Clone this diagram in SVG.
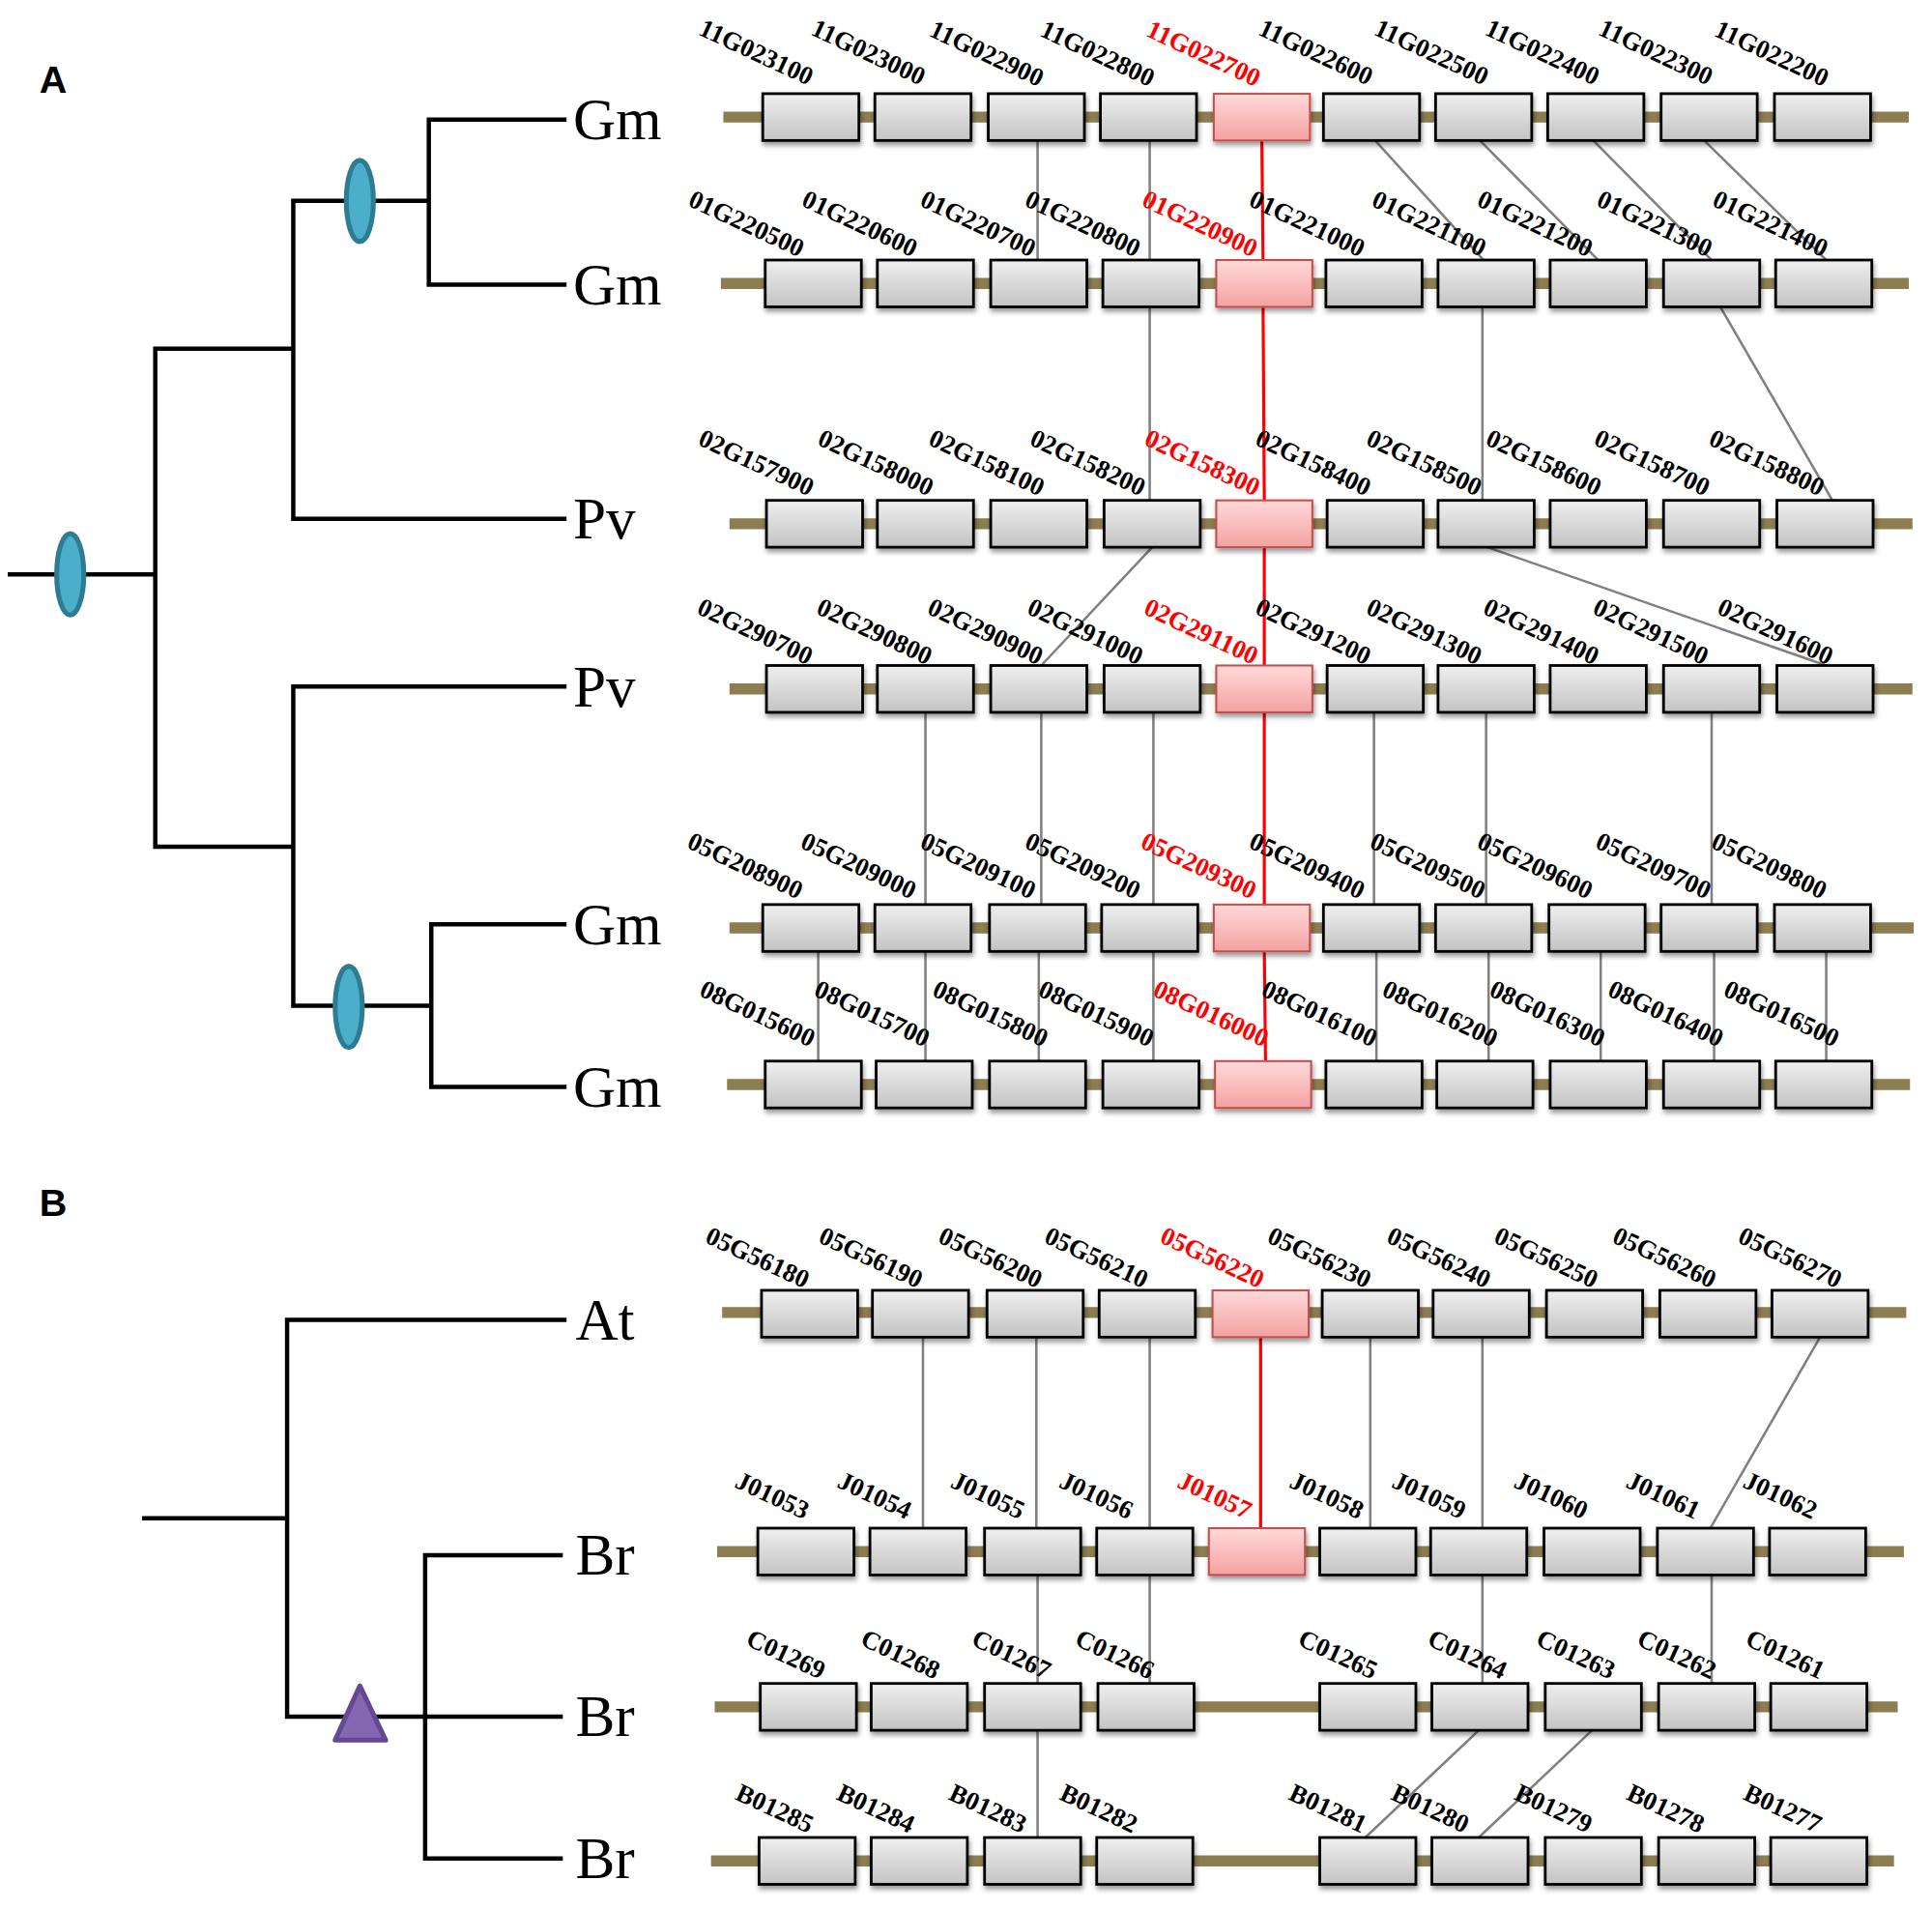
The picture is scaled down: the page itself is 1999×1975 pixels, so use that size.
<svg xmlns="http://www.w3.org/2000/svg" width="1999" height="1975" viewBox="0 0 1999 1975">
<defs>
<linearGradient id="gg" x1="0" y1="0" x2="0" y2="1"><stop offset="0" stop-color="#EFEFEF"/><stop offset="1" stop-color="#C3C3C3"/></linearGradient>
<linearGradient id="rg" x1="0" y1="0" x2="0" y2="1"><stop offset="0" stop-color="#FFD9D9"/><stop offset="1" stop-color="#F4A2A2"/></linearGradient>
<filter id="sh" x="-20%" y="-20%" width="150%" height="170%"><feDropShadow dx="1" dy="3" stdDeviation="2" flood-color="#000" flood-opacity="0.4"/></filter>
<style>
.gb{fill:url(#gg);stroke:#000;stroke-width:2.2;filter:url(#sh)}
.rb{fill:url(#rg);stroke:#C0504D;stroke-width:1.6;filter:url(#sh)}
.trk{stroke:#8C7E50;stroke-width:9;fill:none}
.tree{stroke:#000;stroke-width:3.5;fill:none;stroke-linecap:square}
.cn{stroke:#808080;stroke-width:2;fill:none}
.cr{stroke:#FF0000;stroke-width:2.5;fill:none}
.lb{font-family:"Liberation Serif","Times New Roman",serif;font-weight:bold;font-size:21px;text-anchor:middle;fill:#000}
.lr{fill:#FF0000}
.sp{font-family:"Liberation Serif","Times New Roman",serif;font-size:48px;fill:#000}
.pl{font-family:"Liberation Sans",Arial,sans-serif;font-weight:bold;font-size:31px;fill:#000}
.wgd{fill:#4BAFCB;stroke:#2D7C91;stroke-width:4}
.tri{fill:#8567B1;stroke:#654892;stroke-width:4;stroke-linejoin:round}
</style>
</defs>
<rect width="1999" height="1975" fill="#fff"/>
<g transform="scale(1.275)">
<text class="pl" x="32" y="75">A</text>
<text class="pl" x="32" y="987">B</text>

<g id="treeA">
<path class="tree" d="M8,466 H126 M238,283 H126 V687 H238 M458,421 H238 V163 H348 M458,97 H348 V231 H458 M458,557 H238 V816 H350 M458,750 H350 V882 H458"/>
<ellipse class="wgd" cx="57" cy="466" rx="11" ry="33"/>
<ellipse class="wgd" cx="292" cy="163" rx="11" ry="33"/>
<ellipse class="wgd" cx="283" cy="817" rx="11" ry="33"/>
</g>
<g id="treeB">
<path class="tree" d="M117,1232 H233 M458,1071 H233 V1393 H455 M455,1262 H345 V1508 H455"/>
<polygon class="tri" points="292,1368 272,1412 313,1412"/>
</g>
<g id="species">
<text class="sp" x="465" y="113">Gm</text>
<text class="sp" x="465" y="247">Gm</text>
<text class="sp" x="465" y="437">Pv</text>
<text class="sp" x="465" y="573">Pv</text>
<text class="sp" x="465" y="766">Gm</text>
<text class="sp" x="465" y="898">Gm</text>
<text class="sp" x="467" y="1087">At</text>
<text class="sp" x="467" y="1278">Br</text>
<text class="sp" x="467" y="1409">Br</text>
<text class="sp" x="467" y="1524">Br</text>
</g>

<g id="connectors">
<path class="cn" d="M842,114 V211 M933,114 V211 M1116,114 L1204,211 M1201,114 L1297,211 M1293,114 L1389,211 M1383,114 L1482,211"/>
<path class="cn" d="M933,249 V406 M1203,249 V406 M1396,249 L1487,406"/>
<path class="cn" d="M935,444 L845,540 M1207,444 L1482,540"/>
<path class="cn" d="M751,578 V734 M845,578 V734 M936,578 V734 M1115,578 V734 M1206,578 V734 M1389,578 V734"/>
<path class="cn" d="M664,772 V861 M751,772 V861 M843,772 V861 M936,772 V861 M1117,772 V861 M1208,772 V861 M1299,772 V861 M1391,772 V861 M1482,772 V861"/>
<path class="cn" d="M749,1085 V1240 M841,1085 V1240 M933,1085 V1240 M1112,1085 V1240 M1203,1085 V1240 M1477,1085 L1388,1240"/>
<path class="cn" d="M842,1278 V1366 M933,1278 V1366 M1203,1278 V1366 M1389,1278 V1366"/>
<path class="cn" d="M842,1404 V1491 M1200,1404 L1108,1491 M1292,1404 L1200,1491"/>
<path class="cr" d="M1024,114 L1025,211 M1025,249 L1026,406 M1026,444 V540 M1026,578 V734 M1026,772 L1027,861 M1023,1085 V1240"/>
</g>

<g id="tracks">
<path class="trk" d="M587,95 H1549 M585,230 H1549 M592,425 H1552 M592,559 H1552 M592,753 H1553 M590,880 H1550 M586,1065 H1547 M582,1259 H1545 M580,1385 H1540 M577,1510 H1537"/>
</g>

<g id="row1">
<g id="g11G023100"><rect class="gb" x="619" y="76" width="78" height="38"/><text class="lb" dy="0.35em" transform="translate(614,42) rotate(25)">11G023100</text></g>
<g id="g11G023000"><rect class="gb" x="710" y="76" width="78" height="38"/><text class="lb" dy="0.35em" transform="translate(705,42) rotate(25)">11G023000</text></g>
<g id="g11G022900"><rect class="gb" x="802" y="76" width="78" height="38"/><text class="lb" dy="0.35em" transform="translate(801,43) rotate(25)">11G022900</text></g>
<g id="g11G022800"><rect class="gb" x="893" y="76" width="78" height="38"/><text class="lb" dy="0.35em" transform="translate(891,43) rotate(25)">11G022800</text></g>
<g id="g11G022700"><rect class="rb" x="985" y="76" width="78" height="38"/><text class="lb lr" dy="0.35em" transform="translate(977,43) rotate(25)">11G022700</text></g>
<g id="g11G022600"><rect class="gb" x="1074" y="76" width="78" height="38"/><text class="lb" dy="0.35em" transform="translate(1068,42) rotate(25)">11G022600</text></g>
<g id="g11G022500"><rect class="gb" x="1165" y="76" width="78" height="38"/><text class="lb" dy="0.35em" transform="translate(1162,42) rotate(25)">11G022500</text></g>
<g id="g11G022400"><rect class="gb" x="1256" y="76" width="78" height="38"/><text class="lb" dy="0.35em" transform="translate(1252,42) rotate(25)">11G022400</text></g>
<g id="g11G022300"><rect class="gb" x="1348" y="76" width="78" height="38"/><text class="lb" dy="0.35em" transform="translate(1344,42) rotate(25)">11G022300</text></g>
<g id="g11G022200"><rect class="gb" x="1440" y="76" width="78" height="38"/><text class="lb" dy="0.35em" transform="translate(1438,43) rotate(25)">11G022200</text></g>
</g>

<g id="row2">
<g id="g01G220500"><rect class="gb" x="621" y="211" width="78" height="38"/><text class="lb" dy="0.35em" transform="translate(606,181) rotate(25)">01G220500</text></g>
<g id="g01G220600"><rect class="gb" x="712" y="211" width="78" height="38"/><text class="lb" dy="0.35em" transform="translate(698,181) rotate(25)">01G220600</text></g>
<g id="g01G220700"><rect class="gb" x="804" y="211" width="78" height="38"/><text class="lb" dy="0.35em" transform="translate(794,181) rotate(25)">01G220700</text></g>
<g id="g01G220800"><rect class="gb" x="895" y="211" width="78" height="38"/><text class="lb" dy="0.35em" transform="translate(879,181) rotate(25)">01G220800</text></g>
<g id="g01G220900"><rect class="rb" x="987" y="211" width="78" height="38"/><text class="lb lr" dy="0.35em" transform="translate(974,181) rotate(25)">01G220900</text></g>
<g id="g01G221000"><rect class="gb" x="1076" y="211" width="78" height="38"/><text class="lb" dy="0.35em" transform="translate(1061,181) rotate(25)">01G221000</text></g>
<g id="g01G221100"><rect class="gb" x="1167" y="211" width="78" height="38"/><text class="lb" dy="0.35em" transform="translate(1160,181) rotate(25)">01G221100</text></g>
<g id="g01G221200"><rect class="gb" x="1258" y="211" width="78" height="38"/><text class="lb" dy="0.35em" transform="translate(1246,181) rotate(25)">01G221200</text></g>
<g id="g01G221300"><rect class="gb" x="1350" y="211" width="78" height="38"/><text class="lb" dy="0.35em" transform="translate(1343,181) rotate(25)">01G221300</text></g>
<g id="g01G221400"><rect class="gb" x="1441" y="211" width="78" height="38"/><text class="lb" dy="0.35em" transform="translate(1437,181) rotate(25)">01G221400</text></g>
</g>

<g id="row3">
<g id="g02G157900"><rect class="gb" x="622" y="406" width="78" height="38"/><text class="lb" dy="0.35em" transform="translate(614,375) rotate(25)">02G157900</text></g>
<g id="g02G158000"><rect class="gb" x="712" y="406" width="78" height="38"/><text class="lb" dy="0.35em" transform="translate(711,375) rotate(25)">02G158000</text></g>
<g id="g02G158100"><rect class="gb" x="804" y="406" width="78" height="38"/><text class="lb" dy="0.35em" transform="translate(801,375) rotate(25)">02G158100</text></g>
<g id="g02G158200"><rect class="gb" x="896" y="406" width="78" height="38"/><text class="lb" dy="0.35em" transform="translate(883,375) rotate(25)">02G158200</text></g>
<g id="g02G158300"><rect class="rb" x="987" y="406" width="78" height="38"/><text class="lb lr" dy="0.35em" transform="translate(976,375) rotate(25)">02G158300</text></g>
<g id="g02G158400"><rect class="gb" x="1077" y="406" width="78" height="38"/><text class="lb" dy="0.35em" transform="translate(1066,375) rotate(25)">02G158400</text></g>
<g id="g02G158500"><rect class="gb" x="1167" y="406" width="78" height="38"/><text class="lb" dy="0.35em" transform="translate(1156,375) rotate(25)">02G158500</text></g>
<g id="g02G158600"><rect class="gb" x="1258" y="406" width="78" height="38"/><text class="lb" dy="0.35em" transform="translate(1253,375) rotate(25)">02G158600</text></g>
<g id="g02G158700"><rect class="gb" x="1350" y="406" width="78" height="38"/><text class="lb" dy="0.35em" transform="translate(1341,375) rotate(25)">02G158700</text></g>
<g id="g02G158800"><rect class="gb" x="1442" y="406" width="78" height="38"/><text class="lb" dy="0.35em" transform="translate(1434,375) rotate(25)">02G158800</text></g>
</g>

<g id="row4">
<g id="g02G290700"><rect class="gb" x="622" y="540" width="78" height="38"/><text class="lb" dy="0.35em" transform="translate(613,512) rotate(25)">02G290700</text></g>
<g id="g02G290800"><rect class="gb" x="712" y="540" width="78" height="38"/><text class="lb" dy="0.35em" transform="translate(710,512) rotate(25)">02G290800</text></g>
<g id="g02G290900"><rect class="gb" x="804" y="540" width="78" height="38"/><text class="lb" dy="0.35em" transform="translate(800,512) rotate(25)">02G290900</text></g>
<g id="g02G291000"><rect class="gb" x="896" y="540" width="78" height="38"/><text class="lb" dy="0.35em" transform="translate(881,512) rotate(25)">02G291000</text></g>
<g id="g02G291100"><rect class="rb" x="987" y="540" width="78" height="38"/><text class="lb lr" dy="0.35em" transform="translate(975,512) rotate(25)">02G291100</text></g>
<g id="g02G291200"><rect class="gb" x="1077" y="540" width="78" height="38"/><text class="lb" dy="0.35em" transform="translate(1066,512) rotate(25)">02G291200</text></g>
<g id="g02G291300"><rect class="gb" x="1167" y="540" width="78" height="38"/><text class="lb" dy="0.35em" transform="translate(1156,512) rotate(25)">02G291300</text></g>
<g id="g02G291400"><rect class="gb" x="1258" y="540" width="78" height="38"/><text class="lb" dy="0.35em" transform="translate(1251,512) rotate(25)">02G291400</text></g>
<g id="g02G291500"><rect class="gb" x="1350" y="540" width="78" height="38"/><text class="lb" dy="0.35em" transform="translate(1340,512) rotate(25)">02G291500</text></g>
<g id="g02G291600"><rect class="gb" x="1442" y="540" width="78" height="38"/><text class="lb" dy="0.35em" transform="translate(1441,512) rotate(25)">02G291600</text></g>
</g>

<g id="row5">
<g id="g05G208900"><rect class="gb" x="619" y="734" width="78" height="38"/><text class="lb" dy="0.35em" transform="translate(605,702) rotate(25)">05G208900</text></g>
<g id="g05G209000"><rect class="gb" x="710" y="734" width="78" height="38"/><text class="lb" dy="0.35em" transform="translate(697,702) rotate(25)">05G209000</text></g>
<g id="g05G209100"><rect class="gb" x="803" y="734" width="78" height="38"/><text class="lb" dy="0.35em" transform="translate(794,702) rotate(25)">05G209100</text></g>
<g id="g05G209200"><rect class="gb" x="894" y="734" width="78" height="38"/><text class="lb" dy="0.35em" transform="translate(879,702) rotate(25)">05G209200</text></g>
<g id="g05G209300"><rect class="rb" x="985" y="734" width="78" height="38"/><text class="lb lr" dy="0.35em" transform="translate(973,702) rotate(25)">05G209300</text></g>
<g id="g05G209400"><rect class="gb" x="1074" y="734" width="78" height="38"/><text class="lb" dy="0.35em" transform="translate(1061,702) rotate(25)">05G209400</text></g>
<g id="g05G209500"><rect class="gb" x="1165" y="734" width="78" height="38"/><text class="lb" dy="0.35em" transform="translate(1159,702) rotate(25)">05G209500</text></g>
<g id="g05G209600"><rect class="gb" x="1257" y="734" width="78" height="38"/><text class="lb" dy="0.35em" transform="translate(1246,702) rotate(25)">05G209600</text></g>
<g id="g05G209700"><rect class="gb" x="1348" y="734" width="78" height="38"/><text class="lb" dy="0.35em" transform="translate(1342,702) rotate(25)">05G209700</text></g>
<g id="g05G209800"><rect class="gb" x="1440" y="734" width="78" height="38"/><text class="lb" dy="0.35em" transform="translate(1436,702) rotate(25)">05G209800</text></g>
</g>

<g id="row6">
<g id="g08G015600"><rect class="gb" x="621" y="861" width="78" height="38"/><text class="lb" dy="0.35em" transform="translate(615,822) rotate(25)">08G015600</text></g>
<g id="g08G015700"><rect class="gb" x="711" y="861" width="78" height="38"/><text class="lb" dy="0.35em" transform="translate(708,822) rotate(25)">08G015700</text></g>
<g id="g08G015800"><rect class="gb" x="803" y="861" width="78" height="38"/><text class="lb" dy="0.35em" transform="translate(804,822) rotate(25)">08G015800</text></g>
<g id="g08G015900"><rect class="gb" x="895" y="861" width="78" height="38"/><text class="lb" dy="0.35em" transform="translate(890,822) rotate(25)">08G015900</text></g>
<g id="g08G016000"><rect class="rb" x="986" y="861" width="78" height="38"/><text class="lb lr" dy="0.35em" transform="translate(983,822) rotate(25)">08G016000</text></g>
<g id="g08G016100"><rect class="gb" x="1076" y="861" width="78" height="38"/><text class="lb" dy="0.35em" transform="translate(1071,822) rotate(25)">08G016100</text></g>
<g id="g08G016200"><rect class="gb" x="1166" y="861" width="78" height="38"/><text class="lb" dy="0.35em" transform="translate(1169,822) rotate(25)">08G016200</text></g>
<g id="g08G016300"><rect class="gb" x="1258" y="861" width="78" height="38"/><text class="lb" dy="0.35em" transform="translate(1256,822) rotate(25)">08G016300</text></g>
<g id="g08G016400"><rect class="gb" x="1350" y="861" width="78" height="38"/><text class="lb" dy="0.35em" transform="translate(1352,822) rotate(25)">08G016400</text></g>
<g id="g08G016500"><rect class="gb" x="1441" y="861" width="78" height="38"/><text class="lb" dy="0.35em" transform="translate(1446,822) rotate(25)">08G016500</text></g>
</g>

<g id="rowB1">
<g id="g05G56180"><rect class="gb" x="618" y="1047" width="78" height="38"/><text class="lb" dy="0.35em" transform="translate(615,1020) rotate(25)">05G56180</text></g>
<g id="g05G56190"><rect class="gb" x="708" y="1047" width="78" height="38"/><text class="lb" dy="0.35em" transform="translate(707,1020) rotate(25)">05G56190</text></g>
<g id="g05G56200"><rect class="gb" x="801" y="1047" width="78" height="38"/><text class="lb" dy="0.35em" transform="translate(804,1020) rotate(25)">05G56200</text></g>
<g id="g05G56210"><rect class="gb" x="892" y="1047" width="78" height="38"/><text class="lb" dy="0.35em" transform="translate(890,1020) rotate(25)">05G56210</text></g>
<g id="g05G56220"><rect class="rb" x="984" y="1047" width="78" height="38"/><text class="lb lr" dy="0.35em" transform="translate(984,1020) rotate(25)">05G56220</text></g>
<g id="g05G56230"><rect class="gb" x="1073" y="1047" width="78" height="38"/><text class="lb" dy="0.35em" transform="translate(1071,1020) rotate(25)">05G56230</text></g>
<g id="g05G56240"><rect class="gb" x="1163" y="1047" width="78" height="38"/><text class="lb" dy="0.35em" transform="translate(1168,1020) rotate(25)">05G56240</text></g>
<g id="g05G56250"><rect class="gb" x="1255" y="1047" width="78" height="38"/><text class="lb" dy="0.35em" transform="translate(1255,1020) rotate(25)">05G56250</text></g>
<g id="g05G56260"><rect class="gb" x="1347" y="1047" width="78" height="38"/><text class="lb" dy="0.35em" transform="translate(1351,1020) rotate(25)">05G56260</text></g>
<g id="g05G56270"><rect class="gb" x="1438" y="1047" width="78" height="38"/><text class="lb" dy="0.35em" transform="translate(1453,1020) rotate(25)">05G56270</text></g>
</g>

<g id="rowB2">
<g id="gJ01053"><rect class="gb" x="615" y="1240" width="78" height="38"/><text class="lb" dy="0.35em" transform="translate(627,1213) rotate(25)">J01053</text></g>
<g id="gJ01054"><rect class="gb" x="706" y="1240" width="78" height="38"/><text class="lb" dy="0.35em" transform="translate(710,1213) rotate(25)">J01054</text></g>
<g id="gJ01055"><rect class="gb" x="799" y="1240" width="78" height="38"/><text class="lb" dy="0.35em" transform="translate(802,1213) rotate(25)">J01055</text></g>
<g id="gJ01056"><rect class="gb" x="890" y="1240" width="78" height="38"/><text class="lb" dy="0.35em" transform="translate(890,1213) rotate(25)">J01056</text></g>
<g id="gJ01057"><rect class="rb" x="981" y="1240" width="78" height="38"/><text class="lb lr" dy="0.35em" transform="translate(986,1213) rotate(25)">J01057</text></g>
<g id="gJ01058"><rect class="gb" x="1071" y="1240" width="78" height="38"/><text class="lb" dy="0.35em" transform="translate(1077,1213) rotate(25)">J01058</text></g>
<g id="gJ01059"><rect class="gb" x="1161" y="1240" width="78" height="38"/><text class="lb" dy="0.35em" transform="translate(1160,1213) rotate(25)">J01059</text></g>
<g id="gJ01060"><rect class="gb" x="1253" y="1240" width="78" height="38"/><text class="lb" dy="0.35em" transform="translate(1259,1213) rotate(25)">J01060</text></g>
<g id="gJ01061"><rect class="gb" x="1345" y="1240" width="78" height="38"/><text class="lb" dy="0.35em" transform="translate(1350,1213) rotate(25)">J01061</text></g>
<g id="gJ01062"><rect class="gb" x="1436" y="1240" width="78" height="38"/><text class="lb" dy="0.35em" transform="translate(1445,1213) rotate(25)">J01062</text></g>
</g>

<g id="rowB3">
<g id="gC01269"><rect class="gb" x="617" y="1366" width="78" height="38"/><text class="lb" dy="0.35em" transform="translate(638,1342) rotate(25)">C01269</text></g>
<g id="gC01268"><rect class="gb" x="707" y="1366" width="78" height="38"/><text class="lb" dy="0.35em" transform="translate(731,1342) rotate(25)">C01268</text></g>
<g id="gC01267"><rect class="gb" x="799" y="1366" width="78" height="38"/><text class="lb" dy="0.35em" transform="translate(821,1342) rotate(25)">C01267</text></g>
<g id="gC01266"><rect class="gb" x="891" y="1366" width="78" height="38"/><text class="lb" dy="0.35em" transform="translate(905,1342) rotate(25)">C01266</text></g>
<g id="gC01265"><rect class="gb" x="1071" y="1366" width="78" height="38"/><text class="lb" dy="0.35em" transform="translate(1086,1342) rotate(25)">C01265</text></g>
<g id="gC01264"><rect class="gb" x="1162" y="1366" width="78" height="38"/><text class="lb" dy="0.35em" transform="translate(1191,1342) rotate(25)">C01264</text></g>
<g id="gC01263"><rect class="gb" x="1254" y="1366" width="78" height="38"/><text class="lb" dy="0.35em" transform="translate(1279,1342) rotate(25)">C01263</text></g>
<g id="gC01262"><rect class="gb" x="1346" y="1366" width="78" height="38"/><text class="lb" dy="0.35em" transform="translate(1361,1342) rotate(25)">C01262</text></g>
<g id="gC01261"><rect class="gb" x="1437" y="1366" width="78" height="38"/><text class="lb" dy="0.35em" transform="translate(1449,1342) rotate(25)">C01261</text></g>
</g>

<g id="rowB4">
<g id="gB01285"><rect class="gb" x="616" y="1491" width="78" height="38"/><text class="lb" dy="0.35em" transform="translate(629,1467) rotate(25)">B01285</text></g>
<g id="gB01284"><rect class="gb" x="707" y="1491" width="78" height="38"/><text class="lb" dy="0.35em" transform="translate(711,1467) rotate(25)">B01284</text></g>
<g id="gB01283"><rect class="gb" x="799" y="1491" width="78" height="38"/><text class="lb" dy="0.35em" transform="translate(802,1467) rotate(25)">B01283</text></g>
<g id="gB01282"><rect class="gb" x="890" y="1491" width="78" height="38"/><text class="lb" dy="0.35em" transform="translate(892,1467) rotate(25)">B01282</text></g>
<g id="gB01281"><rect class="gb" x="1071" y="1491" width="78" height="38"/><text class="lb" dy="0.35em" transform="translate(1078,1467) rotate(25)">B01281</text></g>
<g id="gB01280"><rect class="gb" x="1162" y="1491" width="78" height="38"/><text class="lb" dy="0.35em" transform="translate(1161,1467) rotate(25)">B01280</text></g>
<g id="gB01279"><rect class="gb" x="1254" y="1491" width="78" height="38"/><text class="lb" dy="0.35em" transform="translate(1261,1467) rotate(25)">B01279</text></g>
<g id="gB01278"><rect class="gb" x="1346" y="1491" width="78" height="38"/><text class="lb" dy="0.35em" transform="translate(1352,1467) rotate(25)">B01278</text></g>
<g id="gB01277"><rect class="gb" x="1437" y="1491" width="78" height="38"/><text class="lb" dy="0.35em" transform="translate(1447,1467) rotate(25)">B01277</text></g>
</g>
</g>
</svg>
